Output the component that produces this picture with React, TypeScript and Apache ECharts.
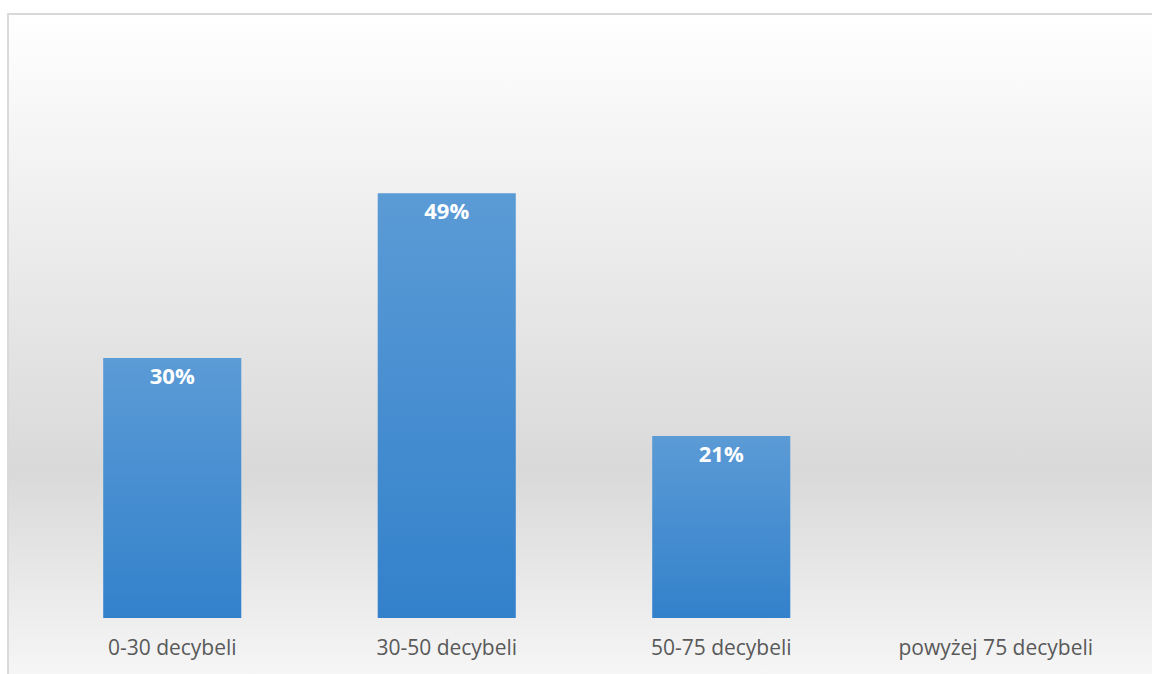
import React, { useEffect, useRef } from "react";
import * as echarts from "echarts";

const categories = ["0-30 decybeli", "30-50 decybeli", "50-75 decybeli", "powyżej 75 decybeli"];
const shares: (number | null)[] = [30, 49, 21, null];
const yMax = 60;

export default function App() {
  const ref = useRef<HTMLDivElement>(null);
  useEffect(() => {
    if (!ref.current) return;
    const chart = echarts.init(ref.current, undefined, { renderer: "svg" });
    chart.setOption({
      animation: false,
      graphic: [
        {
          type: "rect",
          silent: true,
          z: -10,
          shape: { x: 8, y: 14, width: 1160, height: 662 },
          style: {
            fill: new echarts.graphic.LinearGradient(0, 0, 0, 1, [
              { offset: 0, color: "#ffffff" },
              { offset: 0.69, color: "#d9d9d9" },
              { offset: 1, color: "#f6f6f6" },
            ]),
            stroke: "#d9d9d9",
            lineWidth: 2,
          },
        },
      ],
      grid: { left: 35, right: 19, top: 618 - (8.67 * yMax), bottom: 56, containLabel: false },
      xAxis: {
        type: "category",
        data: categories,
        axisLine: { show: false },
        axisTick: { show: false },
        axisLabel: {
          color: "#595959",
          fontFamily: "Open Sans",
          fontSize: 21,
          margin: 18,
          interval: 0,
        },
      },
      yAxis: {
        type: "value",
        min: 0,
        max: yMax,
        show: false,
        splitLine: { show: false },
      },
      series: [
        {
          type: "bar",
          data: shares,
          barWidth: "50.3%",
          itemStyle: {
            color: new echarts.graphic.LinearGradient(0, 0, 0, 1, [
              { offset: 0, color: "#5b9bd6" },
              { offset: 1, color: "#3381cb" },
            ]),
          },
          label: {
            show: true,
            position: "insideTop",
            distance: 6,
            color: "#ffffff",
            fontFamily: "Open Sans",
            fontWeight: "bold",
            fontSize: 22,
            formatter: (p: any) => `${p.value}%`,
          },
        },
      ],
    });
    return () => chart.dispose();
  }, []);
  return <div ref={ref} style={{ width: 1152, height: 674, position: "absolute", left: 0, top: 0 }} />;
}
